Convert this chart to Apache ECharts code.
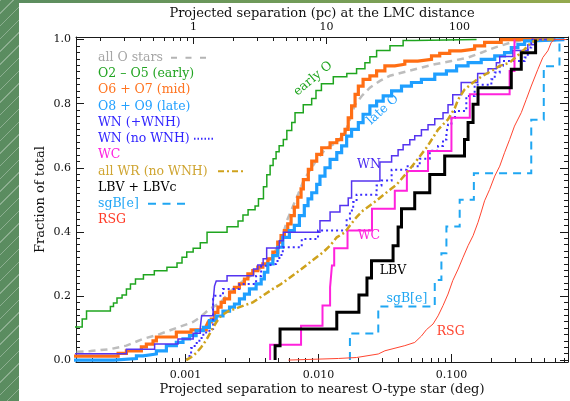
<!DOCTYPE html>
<html>
<head>
<meta charset="utf-8">
<script src="https://cdn.jsdelivr.net/npm/echarts@6/dist/echarts.min.js"></script>
<style>
  html, body { margin: 0; padding: 0; width: 570px; height: 401px; overflow: hidden; }
  body { position: relative; background: linear-gradient(90deg, #5a8c60 0%, #739c58 55%, #94a94e 100%); }
  #stripes { position: absolute; left: 0; top: 0; width: 19px; height: 401px;
             background: repeating-linear-gradient(135deg, rgba(255,255,255,0.30) 0 1px, transparent 1px 9px); }
  #panel { position: absolute; left: 19px; top: 3px; right: 0; bottom: 0; background: #ffffff; }
  #chart { position: absolute; left: 0; top: 0; width: 570px; height: 401px; }
</style>
</head>
<body>
<div id="stripes"></div>
<div id="panel"></div>
<div id="chart"></div>
<script>
// Cumulative distributions of projected separation to the nearest O-type star.
// Each curve: separations (deg) where the cumulative fraction steps, and the fraction reached.

const allO_sep  = [0.0001,0.000193,0.000269,0.000359,0.000479,0.000638,0.000852,0.00114,0.00129,0.00151,0.00182,0.00214,0.00270,0.00339,0.00415,0.00479,0.00538,0.00586,0.00643,0.00704,0.00764,0.00837,0.00968,0.0115,0.0137,0.0158,0.0172,0.0188,0.0211,0.0243,0.0289,0.0343,0.0471,0.0593,0.0747,0.0997,0.133,0.167,0.211,0.281,0.354,0.499];
const allO_frac = [0.023,0.028,0.034,0.045,0.066,0.081,0.100,0.119,0.134,0.159,0.178,0.2125,0.247,0.275,0.306,0.344,0.391,0.441,0.481,0.519,0.556,0.584,0.625,0.6625,0.678,0.709,0.750,0.797,0.824,0.850,0.871,0.887,0.902,0.9125,0.923,0.933,0.944,0.959,0.975,0.991,1.0,1.0];

const earlyO_sep  = [0.0001,0.000167,0.000180,0.000272,0.000287,0.000305,0.000333,0.000359,0.000385,0.000420,0.000482,0.000582,0.000724,0.000862,0.000940,0.00102,0.00114,0.00129,0.00145,0.00205,0.00248,0.00270,0.00295,0.00333,0.00353,0.00385,0.00408,0.00432,0.00455,0.00479,0.00505,0.00543,0.00577,0.00628,0.00665,0.00767,0.00887,0.00956,0.0105,0.0129,0.0163,0.0193,0.0223,0.0243,0.0273,0.0344,0.0432,0.0528,0.154];
const earlyO_frac = [0.103,0.128,0.153,0.167,0.178,0.194,0.203,0.222,0.2375,0.253,0.266,0.279,0.290,0.303,0.321,0.337,0.349,0.366,0.399,0.416,0.434,0.453,0.469,0.481,0.503,0.541,0.578,0.607,0.628,0.650,0.669,0.688,0.716,0.741,0.772,0.797,0.816,0.841,0.8625,0.884,0.894,0.909,0.928,0.946,0.966,0.981,0.997,1.0,1.0];

const midO_sep  = [0.0001,0.000311,0.000359,0.000465,0.000507,0.000569,0.000603,0.000852,0.00110,0.00143,0.00148,0.00156,0.00165,0.00175,0.00185,0.00196,0.00214,0.00233,0.00254,0.00277,0.00294,0.00320,0.00349,0.00381,0.00415,0.00453,0.00493,0.00522,0.00553,0.00586,0.00621,0.00657,0.00697,0.00738,0.00768,0.00837,0.00888,0.00968,0.01055,0.0122,0.0137,0.0149,0.0158,0.0167,0.0177,0.0188,0.0199,0.0216,0.0243,0.0273,0.0315,0.0374,0.0445,0.0557,0.0706,0.0814,0.0968,0.118,0.149,0.177,0.236,0.604];
const midO_frac = [0.0125,0.021,0.029,0.041,0.050,0.060,0.072,0.087,0.094,0.106,0.119,0.128,0.149,0.165,0.180,0.191,0.212,0.227,0.2375,0.253,0.269,0.279,0.290,0.300,0.316,0.337,0.368,0.388,0.404,0.425,0.451,0.477,0.508,0.534,0.563,0.595,0.621,0.642,0.6625,0.678,0.688,0.704,0.720,0.756,0.793,0.829,0.855,0.876,0.887,0.902,0.918,0.923,0.933,0.938,0.949,0.957,0.965,0.970,0.980,0.991,1.0,1.0];

const lateO_sep  = [0.0001,0.000288,0.000427,0.000479,0.000603,0.000717,0.000852,0.000956,0.00107,0.00120,0.00136,0.00151,0.00170,0.00191,0.00214,0.00233,0.00254,0.00277,0.00302,0.00339,0.00370,0.00391,0.00415,0.00453,0.00493,0.00538,0.00603,0.00657,0.00717,0.00781,0.00833,0.00888,0.00968,0.01024,0.01117,0.0122,0.0137,0.0149,0.01625,0.0177,0.0199,0.0216,0.0243,0.0273,0.0306,0.0354,0.0420,0.0499,0.0593,0.0747,0.0914,0.109,0.133,0.167,0.211,0.250,0.281,0.315,0.354,0.397,0.705];
const lateO_frac = [0,0.005,0.013,0.019,0.029,0.045,0.055,0.066,0.076,0.092,0.102,0.123,0.1375,0.153,0.165,0.175,0.191,0.206,0.222,0.2375,0.253,0.274,0.300,0.326,0.352,0.383,0.404,0.420,0.451,0.482,0.503,0.522,0.548,0.574,0.600,0.626,0.647,0.668,0.699,0.720,0.741,0.767,0.793,0.808,0.824,0.840,0.855,0.866,0.876,0.892,0.902,0.918,0.928,0.938,0.949,0.959,0.975,0.985,0.996,1.0,1.0];

const wn_sep  = [0.0001,0.000359,0.000585,0.000877,0.00114,0.00129,0.00132,0.00161,0.00165,0.00170,0.00205,0.00324,0.00349,0.00383,0.00407,0.00507,0.00543,0.01024,0.0122,0.01447,0.0167,0.0177,0.0289,0.0354,0.0396,0.0432,0.0485,0.0528,0.0593,0.0665,0.0747,0.0862,0.0940,0.102,0.118,0.157,0.188,0.217,0.230,0.289,0.374,0.420,0.604];
const wn_frac = [0.020,0.034,0.050,0.066,0.084,0.102,0.138,0.181,0.231,0.247,0.263,0.284,0.297,0.316,0.350,0.372,0.399,0.435,0.462,0.482,0.506,0.559,0.618,0.6375,0.656,0.672,0.6875,0.700,0.719,0.734,0.753,0.772,0.797,0.828,0.866,0.894,0.909,0.928,0.947,0.966,0.984,1.0,1.0];

const wnNoH_sep  = [0.00102,0.00104,0.00110,0.00117,0.00127,0.00136,0.00151,0.00161,0.00165,0.00191,0.00254,0.00339,0.00370,0.00403,0.00479,0.00507,0.00538,0.00747,0.00990,0.01625,0.0172,0.0182,0.0193,0.0273,0.0297,0.0354,0.0458,0.0576,0.0685,0.0791,0.0862,0.0914,0.0940,0.0997,0.106,0.129,0.149,0.199,0.211,0.230,0.243,0.354,0.374,0.397,0.563];
const wnNoH_frac = [0,0.013,0.0375,0.053,0.069,0.086,0.097,0.191,0.201,0.222,0.2375,0.2625,0.294,0.300,0.309,0.328,0.352,0.378,0.404,0.441,0.467,0.493,0.516,0.545,0.560,0.594,0.605,0.628,0.653,0.668,0.688,0.709,0.734,0.756,0.777,0.824,0.859,0.876,0.897,0.918,0.933,0.944,0.975,1.0,1.0];

const wc_sep  = [0.00432,0.00432,0.00738,0.0107,0.0122,0.0126,0.0131,0.0165,0.0252,0.0374,0.0461,0.0665,0.0997,0.137,0.273,0.297];
const wc_frac = [0,0.048,0.107,0.170,0.227,0.295,0.349,0.404,0.472,0.528,0.590,0.652,0.756,0.829,0.902,1.0];

const allWR_sep  = [0.00101,0.00110,0.00120,0.00131,0.00143,0.00156,0.00170,0.00185,0.00208,0.00254,0.00320,0.00381,0.00453,0.00522,0.00603,0.00717,0.00862,0.01085,0.0122,0.0137,0.0158,0.0172,0.0193,0.0216,0.0243,0.0273,0.0315,0.0385,0.0453,0.0544,0.0656,0.0791,0.0940,0.106,0.112,0.125,0.145,0.167,0.199,0.230,0.273,0.354,0.397,0.445,0.604];
const allWR_frac = [0,0.009,0.022,0.040,0.0625,0.091,0.118,0.138,0.152,0.165,0.180,0.201,0.222,0.2375,0.256,0.279,0.305,0.337,0.357,0.383,0.399,0.420,0.446,0.467,0.482,0.498,0.519,0.547,0.581,0.622,0.666,0.719,0.751,0.7875,0.813,0.844,0.866,0.884,0.902,0.918,0.928,0.970,0.991,1.0,1.0];

const lbv_sep  = [0.00471,0.00471,0.00513,0.0137,0.0201,0.0231,0.0250,0.0363,0.0396,0.0420,0.0528,0.0685,0.0887,0.125,0.133,0.145,0.158,0.281,0.334,0.428];
const lbv_frac = [0,0.045,0.097,0.149,0.203,0.256,0.310,0.357,0.415,0.472,0.522,0.579,0.637,0.688,0.741,0.798,0.850,0.907,0.959,1.0];

const sgBe_sep  = [0.0172,0.0172,0.0281,0.0747,0.0838,0.0914,0.115,0.147,0.397,0.493,0.647];
const sgBe_frac = [0,0.083,0.167,0.250,0.333,0.417,0.500,0.583,0.750,0.917,1.0];

const rsg_sep  = [0.00593,0.0141,0.0193,0.0281,0.0315,0.0445,0.0528,0.0593,0.0647,0.0725,0.0791,0.0862,0.0940,0.102,0.112,0.122,0.133,0.145,0.158,0.167,0.177,0.193,0.211,0.230,0.250,0.273,0.297,0.334,0.364,0.397,0.445,0.485,0.529,0.561,0.594,0.730];
const rsg_frac = [0,0.005,0.008,0.019,0.029,0.045,0.055,0.075,0.095,0.1125,0.138,0.170,0.206,0.248,0.284,0.321,0.357,0.388,0.430,0.462,0.497,0.532,0.574,0.605,0.647,0.688,0.730,0.772,0.813,0.855,0.907,0.944,0.965,0.991,1.0,1.0];

// Axis ranges and tick values
const DEG_MIN = 0.00015, DEG_MAX = 0.75;
const DEG_PER_PC = 180 / Math.PI / 50000;          // 1 pc at the LMC distance (50 kpc)
const yMajor = [0, 0.2, 0.4, 0.6, 0.8, 1.0];
const yMinor = [];
for (let k = 1; k < 50; k++) { if (k % 10 !== 0) yMinor.push(k / 50); }
function logMinor(lo, hi) {
  const out = [];
  for (let e = Math.floor(Math.log10(lo)); e <= Math.ceil(Math.log10(hi)); e++) {
    for (let m = 2; m <= 9; m++) {
      const v = m * Math.pow(10, e);
      if (v > lo && v < hi) out.push(Math.log10(v));
    }
  }
  return out;
}
const degMinorLog = logMinor(DEG_MIN, DEG_MAX);
const pcMinorLog = logMinor(DEG_MIN / DEG_PER_PC, DEG_MAX / DEG_PER_PC);

const FONT = 'DejaVu Serif';
const AX = '#1a1a1a';

const zip = (xs, ys) => xs.map((x, i) => [x, ys[i]]);

function curve(name, xs, ys, color, width, dash, stepped) {
  return {
    name, type: 'line', xAxisIndex: 0, yAxisIndex: 0,
    data: zip(xs, ys), step: stepped ? 'end' : false,
    showSymbol: false, symbol: 'none', clip: true, silent: true,
    lineStyle: { color, width, type: dash || 'solid', cap: 'butt', join: 'miter' }
  };
}

const series = [
  curve('all O stars', allO_sep, allO_frac, '#bdbdbd', 2.5, [7, 5], false),
  curve('O2 - O5 (early)', earlyO_sep, earlyO_frac, '#1fa51f', 1.5, null, true),
  curve('O6 + O7 (mid)', midO_sep, midO_frac, '#ff6e14', 3.2, null, true),
  curve('O8 + O9 (late)', lateO_sep, lateO_frac, '#1f9fff', 3.2, null, true),
  curve('WN (+WNH)', wn_sep, wn_frac, '#5534f0', 1.5, null, true),
  curve('WN (no WNH)', wnNoH_sep, wnNoH_frac, '#3a2cff', 2, [2, 3], true),
  curve('WC', wc_sep, wc_frac, '#ff22dc', 2, null, true),
  curve('all WR (no WNH)', allWR_sep, allWR_frac, '#cfa21c', 2.5, [7, 3, 2, 3], false),
  curve('LBV + LBVc', lbv_sep, lbv_frac, '#000000', 3, null, true),
  curve('sgB[e]', sgBe_sep, sgBe_frac, '#1fa6f2', 2, [8, 6], true),
  curve('RSG', rsg_sep, rsg_frac, '#ff4530', 1, null, false)
];

const hidden = { show: false };
const nameStyle = { fontFamily: FONT, fontSize: 13, color: '#111' };
const tickFont = { fontFamily: FONT, fontSize: 11, color: '#111' };
const option = {
  animation: false,
  backgroundColor: 'transparent',
  textStyle: { fontFamily: FONT },
  grid: { left: 76, right: 2, top: 37, bottom: 37, containLabel: false },
  xAxis: [
    { type: 'log', logBase: 10, min: DEG_MIN, max: DEG_MAX, position: 'bottom',
      name: 'Projected separation to nearest O-type star (deg)', nameLocation: 'middle', nameGap: 21,
      nameMoveOverlap: false, nameTextStyle: nameStyle,
      axisLine: { show: true, onZero: false, lineStyle: { color: AX, width: 1 } },
      axisTick: { show: true, inside: true, length: 8, lineStyle: { color: AX } },
      axisLabel: Object.assign({ show: true, margin: 8, showMinLabel: false, showMaxLabel: false,
                   formatter: v => Number(v).toFixed(3) }, tickFont),
      splitLine: hidden },
    { type: 'value', min: Math.log10(DEG_MIN), max: Math.log10(DEG_MAX), position: 'bottom',
      axisLine: { show: false, onZero: false },
      axisTick: { show: true, inside: true, length: 4, customValues: degMinorLog, lineStyle: { color: AX } },
      axisLabel: hidden, splitLine: hidden },
    { type: 'log', logBase: 10, min: DEG_MIN / DEG_PER_PC, max: DEG_MAX / DEG_PER_PC, position: 'top',
      name: 'Projected separation (pc) at the LMC distance', nameLocation: 'middle', nameGap: 17,
      nameMoveOverlap: false, nameTextStyle: nameStyle,
      axisLine: { show: true, onZero: false, lineStyle: { color: AX, width: 1 } },
      axisTick: { show: true, inside: true, length: 7, lineStyle: { color: AX } },
      axisLabel: Object.assign({ show: true, margin: 4, showMinLabel: false, showMaxLabel: false,
                   formatter: v => String(Math.round(v)) }, tickFont),
      splitLine: hidden },
    { type: 'value', min: Math.log10(DEG_MIN / DEG_PER_PC), max: Math.log10(DEG_MAX / DEG_PER_PC), position: 'top',
      axisLine: { show: false, onZero: false },
      axisTick: { show: true, inside: true, length: 4, customValues: pcMinorLog, lineStyle: { color: AX } },
      axisLabel: hidden, splitLine: hidden }
  ],
  yAxis: [
    { type: 'value', min: -0.006, max: 1.008, position: 'left',
      name: 'Fraction of total', nameLocation: 'middle', nameGap: 29,
      nameMoveOverlap: false, nameTextStyle: nameStyle,
      axisLine: { show: true, onZero: false, lineStyle: { color: AX, width: 1 } },
      axisTick: { show: true, inside: true, length: 8, customValues: yMajor, lineStyle: { color: AX } },
      axisLabel: Object.assign({ show: true, margin: 5, customValues: yMajor,
                   formatter: v => Number(v).toFixed(1) }, tickFont),
      splitLine: hidden },
    { type: 'value', min: -0.006, max: 1.008, position: 'left',
      axisLine: { show: false, onZero: false },
      axisTick: { show: true, inside: true, length: 4, customValues: yMinor, lineStyle: { color: AX } },
      axisLabel: hidden, splitLine: hidden },
    { type: 'value', min: -0.006, max: 1.008, position: 'right',
      axisLine: { show: true, onZero: false, lineStyle: { color: AX, width: 1 } },
      axisTick: { show: true, inside: true, length: 8, customValues: yMajor, lineStyle: { color: AX } },
      axisLabel: hidden, splitLine: hidden },
    { type: 'value', min: -0.006, max: 1.008, position: 'right',
      axisLine: { show: false, onZero: false },
      axisTick: { show: true, inside: true, length: 4, customValues: yMinor, lineStyle: { color: AX } },
      axisLabel: hidden, splitLine: hidden }
  ],
  series
};

const chart = echarts.init(document.getElementById('chart'), null, { renderer: 'canvas' });
chart.setOption(option);

// Legend block: coloured names with line-style samples
const legendRows = [
  { text: 'all O stars', color: '#a6a6a6', sample: { x1: 171, x2: 209, stroke: '#b4b4b4', width: 2, dash: [6, 8.5] } },
  { text: 'O2 – O5 (early)', color: '#22a422' },
  { text: 'O6 + O7 (mid)', color: '#ff7420' },
  { text: 'O8 + O9 (late)', color: '#22a0ff' },
  { text: 'WN (+WNH)', color: '#3326ff' },
  { text: 'WN (no WNH)', color: '#3326ff', sample: { x1: 194, x2: 213, stroke: '#3a2cff', width: 2, dash: [1.5, 2] } },
  { text: 'WC', color: '#ff22e0' },
  { text: 'all WR (no WNH)', color: '#cfa532', sample: { x1: 218, x2: 244, stroke: '#cfa21c', width: 2, dash: [6, 3, 2, 3] } },
  { text: 'LBV + LBVc', color: '#000000' },
  { text: 'sgB[e]', color: '#22a6f5', sample: { x1: 148, x2: 186, stroke: '#1fa6f2', width: 2, dash: [8, 6.5] } },
  { text: 'RSG', color: '#ff3a26' }
];
const graphics = [];
legendRows.forEach((row, i) => {
  const y = 57.7 + i * 16.23;
  graphics.push({ type: 'text', id: 'lg' + i, x: 98, y, silent: true,
    style: { text: row.text, fill: row.color, fontFamily: FONT, fontSize: 12.5,
             align: 'left', verticalAlign: 'middle' } });
  if (row.sample) {
    const s = row.sample;
    graphics.push({ type: 'line', id: 'ls' + i, silent: true,
      shape: { x1: s.x1, y1: y, x2: s.x2, y2: y },
      style: { stroke: s.stroke, lineWidth: s.width, lineDash: s.dash } });
  }
});

// Curve tags placed in data coordinates
const curveTags = [
  { text: 'early O', at: [0.00908, 0.878], color: '#1fa51f', angle: 40 },
  { text: 'late O', at: [0.0304, 0.781], color: '#1f9fff', angle: 43 },
  { text: 'WN', at: [0.0239, 0.609], color: '#4a2cf0', angle: 0 },
  { text: 'WC', at: [0.0239, 0.3875], color: '#ff22dc', angle: 0 },
  { text: 'LBV', at: [0.0362, 0.278], color: '#000000', angle: 0 },
  { text: 'sgB[e]', at: [0.0461, 0.191], color: '#1fa6f2', angle: 0 },
  { text: 'RSG', at: [0.0984, 0.0875], color: '#ff4530', angle: 0 }
];
curveTags.forEach((t, i) => {
  const p = chart.convertToPixel({ xAxisIndex: 0, yAxisIndex: 0 }, t.at);
  graphics.push({ type: 'text', id: 'tag' + i, x: p[0], y: p[1], rotation: t.angle * Math.PI / 180, silent: true,
    style: { text: t.text, fill: t.color, fontFamily: FONT, fontSize: 12.5,
             align: 'center', verticalAlign: 'middle' } });
});
chart.setOption({ graphic: { elements: graphics } });
</script>
</body>
</html>
